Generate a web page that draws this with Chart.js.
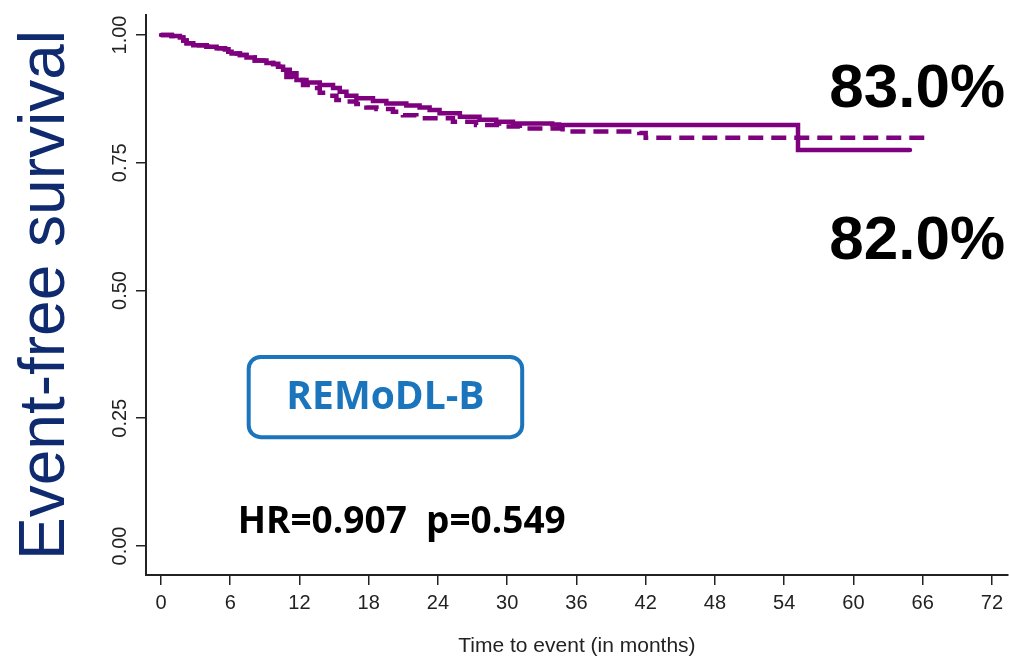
<!DOCTYPE html>
<html>
<head>
<meta charset="utf-8">
<script src="https://cdn.jsdelivr.net/npm/chart.js@4.4.1/dist/chart.umd.min.js"></script>
<style>
  html, body { margin: 0; padding: 0; background: #fff; }
  canvas { display: block; }
</style>
</head>
<body>
<canvas id="kmChart" width="1009" height="661"></canvas>
<script>
// Kaplan-Meier steps (months, survival)
const solidTimes = [0, 0.92, 1.64, 1.93, 2.22, 2.80, 3.95, 4.82, 5.54, 5.83, 6.12, 6.84, 7.41, 8.13, 9.14, 9.72, 10.15, 10.58,
    11.16, 11.74, 12.61, 13.76, 14.91, 15.49, 16.07, 16.93, 18.37, 19.53, 21.26, 22.41, 23.28, 24.14, 25.9, 27.6, 29.05, 30.5, 33.9, 34.5, 55.2, 64.9];
const solidSurv  = [1.000, 0.998, 0.995, 0.989, 0.984, 0.980, 0.977, 0.974, 0.972, 0.967, 0.964, 0.961, 0.956, 0.950, 0.945, 0.943, 0.938, 0.932,
    0.925, 0.912, 0.907, 0.902, 0.896, 0.889, 0.881, 0.876, 0.871, 0.866, 0.862, 0.858, 0.853, 0.847, 0.840, 0.834, 0.830, 0.827, 0.825, 0.824, 0.775, 0.775];

const dashedTimes = [0, 0.92, 1.64, 1.93, 2.22, 2.80, 3.95, 4.82, 5.54, 5.83, 6.12, 6.84, 7.41, 8.13, 9.14, 9.72, 10.15, 10.58,
    10.87, 11.45, 12.31, 13.18, 13.76, 14.34, 15.20, 16.07, 16.93, 17.80, 18.67, 20.10, 20.97, 22.13, 25.3, 27.3, 29.3, 31.1, 34.8, 41.45, 42.0, 66.4];
const dashedSurv  = [1.000, 0.998, 0.995, 0.989, 0.984, 0.980, 0.977, 0.974, 0.972, 0.967, 0.964, 0.961, 0.956, 0.950, 0.945, 0.943, 0.938, 0.932,
    0.918, 0.912, 0.902, 0.896, 0.887, 0.881, 0.873, 0.870, 0.865, 0.858, 0.855, 0.850, 0.843, 0.837, 0.830, 0.824, 0.821, 0.817, 0.811, 0.808, 0.799, 0.799];

const xTicks = [0, 6, 12, 18, 24, 30, 36, 42, 48, 54, 60, 66, 72];
const yTicks = [0, 0.25, 0.5, 0.75, 1];
const yTickLabels = ['0.00', '0.25', '0.50', '0.75', '1.00'];

const purple = '#7F007F';

function toPoints(xs, ys) {
    return xs.map((x, i) => ({ x: x, y: ys[i] }));
}

// rotated y tick labels plus the text annotations
const extrasPlugin = {
    id: 'extras',
    afterDraw(chart) {
        const ctx = chart.ctx;
        const xs = chart.scales.x;
        const ys = chart.scales.y;

        ctx.save();
        ctx.fillStyle = '#222';
        ctx.font = '20px "Liberation Sans", Arial, sans-serif';
        ctx.textAlign = 'center';
        ctx.textBaseline = 'alphabetic';
        yTicks.forEach((v, i) => {
            ctx.save();
            ctx.translate(ys.left + 126, ys.getPixelForValue(v));
            ctx.rotate(-Math.PI / 2);
            ctx.fillText(yTickLabels[i], 0, 0);
            ctx.restore();
        });
        ctx.restore();

        // percentages
        ctx.save();
        ctx.fillStyle = '#000';
        ctx.font = 'bold 62px "Liberation Sans", Arial, sans-serif';
        ctx.textAlign = 'right';
        ctx.textBaseline = 'middle';
        ctx.fillText('83.0%', xs.getPixelForValue(73.15), ys.getPixelForValue(0.893));
        ctx.fillText('82.0%', xs.getPixelForValue(73.15), ys.getPixelForValue(0.595));
        ctx.restore();

        // trial box
        const bx1 = xs.getPixelForValue(7.6), bx2 = xs.getPixelForValue(31.3);
        const by1 = ys.getPixelForValue(0.370), by2 = ys.getPixelForValue(0.213);
        ctx.save();
        ctx.strokeStyle = '#1B75BC';
        ctx.lineWidth = 4;
        ctx.beginPath();
        ctx.roundRect(bx1, by1, bx2 - bx1, by2 - by1, 12);
        ctx.stroke();
        ctx.fillStyle = '#1B75BC';
        ctx.font = 'bold 39px "Open Sans", sans-serif';
        ctx.textAlign = 'center';
        ctx.textBaseline = 'middle';
        ctx.fillText('REMoDL-B', (bx1 + bx2) / 2, (by1 + by2) / 2 + 1);
        ctx.restore();

        // hazard ratio
        ctx.save();
        ctx.fillStyle = '#000';
        ctx.font = 'bold 37px "Open Sans", sans-serif';
        ctx.textAlign = 'left';
        ctx.textBaseline = 'middle';
        ctx.fillText('HR=0.907  p=0.549', xs.getPixelForValue(6.65), ys.getPixelForValue(0.047));
        ctx.restore();
    }
};

const ctx = document.getElementById('kmChart').getContext('2d');
const kmChart = new Chart(ctx, {
    type: 'line',
    data: {
        datasets: [{
            label: 'solid',
            data: toPoints(solidTimes, solidSurv),
            borderColor: purple,
            borderWidth: 4.5,
            stepped: true,
            pointRadius: 0,
            borderCapStyle: 'round',
            fill: false
        }, {
            label: 'dashed',
            data: toPoints(dashedTimes, dashedSurv),
            borderColor: purple,
            borderWidth: 4.5,
            borderDash: [15, 8],
            stepped: true,
            pointRadius: 0,
            borderCapStyle: 'butt',
            fill: false
        }]
    },
    options: {
        responsive: false,
        animation: false,
        layout: { padding: { top: 15, left: 0, right: 0, bottom: 0 } },
        plugins: {
            legend: { display: false },
            tooltip: { enabled: false }
        },
        scales: {
            x: {
                type: 'linear',
                min: -1.298,
                max: 73.385,
                afterBuildTicks: (scale) => { scale.ticks = xTicks.map(v => ({ value: v })); },
                afterFit: (scale) => { scale.height = 86; },
                grid: { drawOnChartArea: false, drawTicks: true, tickLength: 10, color: '#222', lineWidth: 1.5 },
                border: { display: true, color: '#222', width: 2 },
                ticks: {
                    color: '#222',
                    padding: 6,
                    maxRotation: 0,
                    autoSkip: false,
                    font: { family: '"Liberation Sans", Arial, sans-serif', size: 20 }
                },
                title: {
                    display: true,
                    text: 'Time to event (in months)',
                    color: '#222',
                    font: { family: '"Liberation Sans", Arial, sans-serif', size: 21 },
                    padding: { top: 0, bottom: 2 }
                }
            },
            y: {
                type: 'linear',
                min: -0.0568,
                max: 1.0391,
                afterBuildTicks: (scale) => { scale.ticks = yTicks.map(v => ({ value: v })); },
                afterFit: (scale) => { scale.width = 146; },
                grid: { drawOnChartArea: false, drawTicks: true, tickLength: 10, color: '#222', lineWidth: 1.5 },
                border: { display: true, color: '#222', width: 2 },
                ticks: { display: false },
                title: {
                    display: true,
                    text: 'Event-free survival',
                    color: '#0F2A6E',
                    font: { family: '"Liberation Sans", Arial, sans-serif', size: 64, lineHeight: 1 },
                    padding: { top: 14, bottom: 0 }
                }
            }
        }
    },
    plugins: [extrasPlugin]
});
</script>
</body>
</html>
